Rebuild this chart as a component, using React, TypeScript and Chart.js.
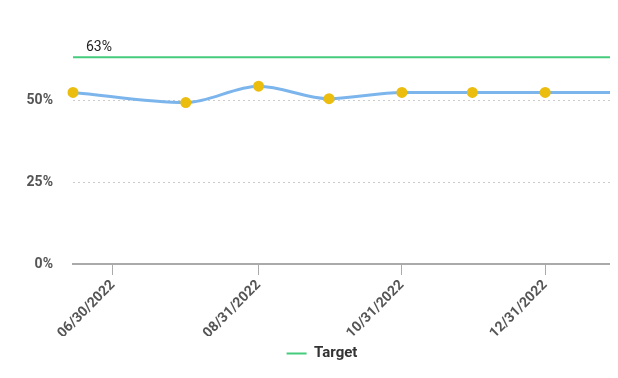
import React, { useEffect, useRef } from "react";
import { Chart, registerables } from "chart.js";

Chart.register(...registerables);

const pointDates = ["2022-06-13", "2022-07-31", "2022-08-31", "2022-09-30", "2022-10-31", "2022-11-30", "2022-12-31", "2023-01-31"];
const actualValues = [52.3, 49.2, 54.2, 50.4, 52.3, 52.3, 52.3, 52.3];
const targetValue = 63;
const tickDates = ["2022-06-30", "2022-08-31", "2022-10-31", "2022-12-31"];
const tickLabels = ["06/30/2022", "08/31/2022", "10/31/2022", "12/31/2022"];
const yTickValues = [0, 25, 50];
const yMax = 75;

const toDay = (s: string) =>
  Date.UTC(+s.slice(0, 4), +s.slice(5, 7) - 1, +s.slice(8, 10)) / 86400000;

const targetLabelPlugin = {
  id: "targetLabel",
  afterDatasetsDraw(chart: any) {
    const { ctx, scales } = chart;
    const x = scales.x.getPixelForValue(toDay(pointDates[0])) + 13;
    const y = scales.y.getPixelForValue(targetValue) - 9.5;
    ctx.save();
    ctx.font = "14px Roboto";
    ctx.fillStyle = "#222";
    ctx.textAlign = "left";
    ctx.textBaseline = "middle";
    ctx.fillText(targetValue + "%", x, y);
    ctx.restore();
  },
};

const legendShift = {
  id: "legendShift",
  afterLayout(chart: any) {
    if (chart.legend) {
      chart.legend.left += 8;
      chart.legend.right += 8;
    }
  },
};

export default function App() {
  const ref = useRef<HTMLCanvasElement>(null);
  useEffect(() => {
    if (!ref.current) return;
    Chart.defaults.font.family = "Roboto";
    const firstDay = toDay(pointDates[0]);
    const lastDay = toDay(pointDates[pointDates.length - 1]);
    const chart = new Chart(ref.current, {
      type: "line",
      data: {
        datasets: [
          {
            label: "Actual",
            data: pointDates.map((d, i) => ({ x: toDay(d), y: actualValues[i] })),
            borderColor: "#7cb5ec",
            borderWidth: 3,
            cubicInterpolationMode: "monotone",
            pointBackgroundColor: "#ebbd0e",
            pointBorderColor: "#ebbd0e",
            pointRadius: 4,
            clip: false as any,
          },
          {
            label: "Target",
            data: [
              { x: firstDay, y: targetValue },
              { x: lastDay, y: targetValue },
            ],
            borderColor: "#44cc7c",
            backgroundColor: "#44cc7c",
            borderWidth: 2,
            pointRadius: 0,
            pointStyle: "line",
          },
        ],
      },
      options: {
        animation: false,
        responsive: false,
        devicePixelRatio: 1,
        layout: { autoPadding: false, padding: { top: 10, right: -2, left: 0, bottom: -1 } },
        scales: {
          x: {
            type: "linear",
            min: firstDay,
            max: lastDay,
            afterBuildTicks: (scale: any) => {
              scale.ticks = tickDates.map((d) => ({ value: toDay(d) }));
            },
            afterFit: (scale: any) => {
              scale.height = 72;
              scale.paddingLeft = 0;
              scale.paddingRight = 0;
            },
            grid: {
              drawOnChartArea: false,
              drawTicks: true,
              tickLength: 11,
              color: "#aaa",
            },
            border: { color: "#aaa", width: 2 },
            ticks: {
              autoSkip: false,
              maxRotation: 45,
              minRotation: 45,
              color: "#555",
              font: { size: 14, weight: "bold" },
              padding: 2,
              callback: (_v: any, i: number) => tickLabels[i],
            },
          },
          y: {
            min: 0,
            max: yMax,
            afterBuildTicks: (scale: any) => {
              scale.ticks = yTickValues.map((v) => ({ value: v }));
            },
            afterFit: (scale: any) => {
              scale.width = 65;
              scale.paddingTop = 0;
              scale.paddingBottom = 0;
            },
            grid: {
              drawTicks: false,
              color: "#ccc",
              lineWidth: 1,
            },
            border: { display: false, dash: [2, 3] },
            ticks: {
              color: "#555",
              font: { size: 14, weight: "bold" },
              padding: 20,
              callback: (v: any) => v + "%",
            },
          },
        },
        plugins: {
          legend: {
            position: "bottom",
            labels: {
              filter: (item: any) => item.text === "Target",
              usePointStyle: true,
              pointStyleWidth: 20,
              color: "#333",
              font: { size: 15, weight: "bold" },
            },
          },
          tooltip: { enabled: false },
        },
      },
      plugins: [targetLabelPlugin, legendShift],
    } as any);
    return () => chart.destroy();
  }, []);
  return (
    <div style={{ width: 610, height: 362 }}>
      <canvas ref={ref} width={610} height={362} style={{ display: "block", width: 610, height: 362 }} />
    </div>
  );
}
